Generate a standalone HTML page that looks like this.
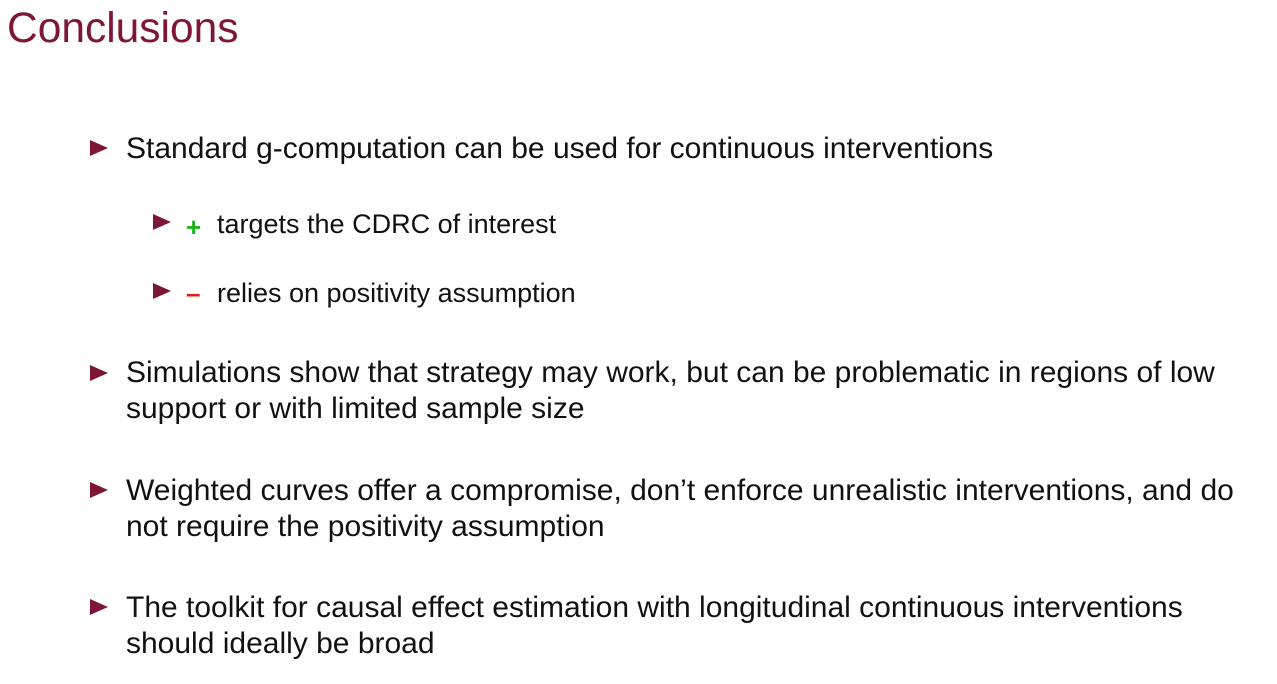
<!DOCTYPE html>
<html><head><meta charset="utf-8"><style>
html,body{margin:0;padding:0;background:#fff;}
body{width:1277px;height:684px;position:relative;overflow:hidden;font-family:"Liberation Sans",sans-serif;}
.t{position:absolute;left:7px;top:4px;font-size:42.5px;color:#7d1734;line-height:50px;}
.l{position:absolute;font-size:30px;line-height:36px;color:#111;white-space:nowrap;}
.s{position:absolute;font-size:27px;line-height:30px;color:#111;white-space:nowrap;}
.tri{position:absolute;width:0;height:0;border-top:8px solid transparent;border-bottom:8px solid transparent;border-left:18px solid #7d1734;}
.sym{position:absolute;font-size:26px;font-weight:bold;line-height:30px;}
</style></head><body>
<div class="t">Conclusions</div>

<div class="tri" style="left:90px;top:140px"></div>
<div class="l" style="left:126px;top:131px">Standard g-computation can be used for continuous interventions</div>

<div class="tri" style="left:153px;top:214px"></div>
<div class="sym" style="left:186px;top:212px;color:#1fb51f">+</div>
<div class="s" style="left:217px;top:209px">targets the CDRC of interest</div>

<div class="tri" style="left:153px;top:283px"></div>
<div class="sym" style="left:186px;top:278px;color:#e01b1b">–</div>
<div class="s" style="left:217px;top:278px">relies on positivity assumption</div>

<div class="tri" style="left:90px;top:365px"></div>
<div class="l" style="left:126px;top:355px">Simulations show that strategy may work, but can be problematic in regions of low<br>support or with limited sample size</div>

<div class="tri" style="left:90px;top:482px"></div>
<div class="l" style="left:126px;top:473px">Weighted curves offer a compromise, don’t enforce unrealistic interventions, and do<br>not require the positivity assumption</div>

<div class="tri" style="left:90px;top:599px"></div>
<div class="l" style="left:126px;top:590px">The toolkit for causal effect estimation with longitudinal continuous interventions<br>should ideally be broad</div>
</body></html>
